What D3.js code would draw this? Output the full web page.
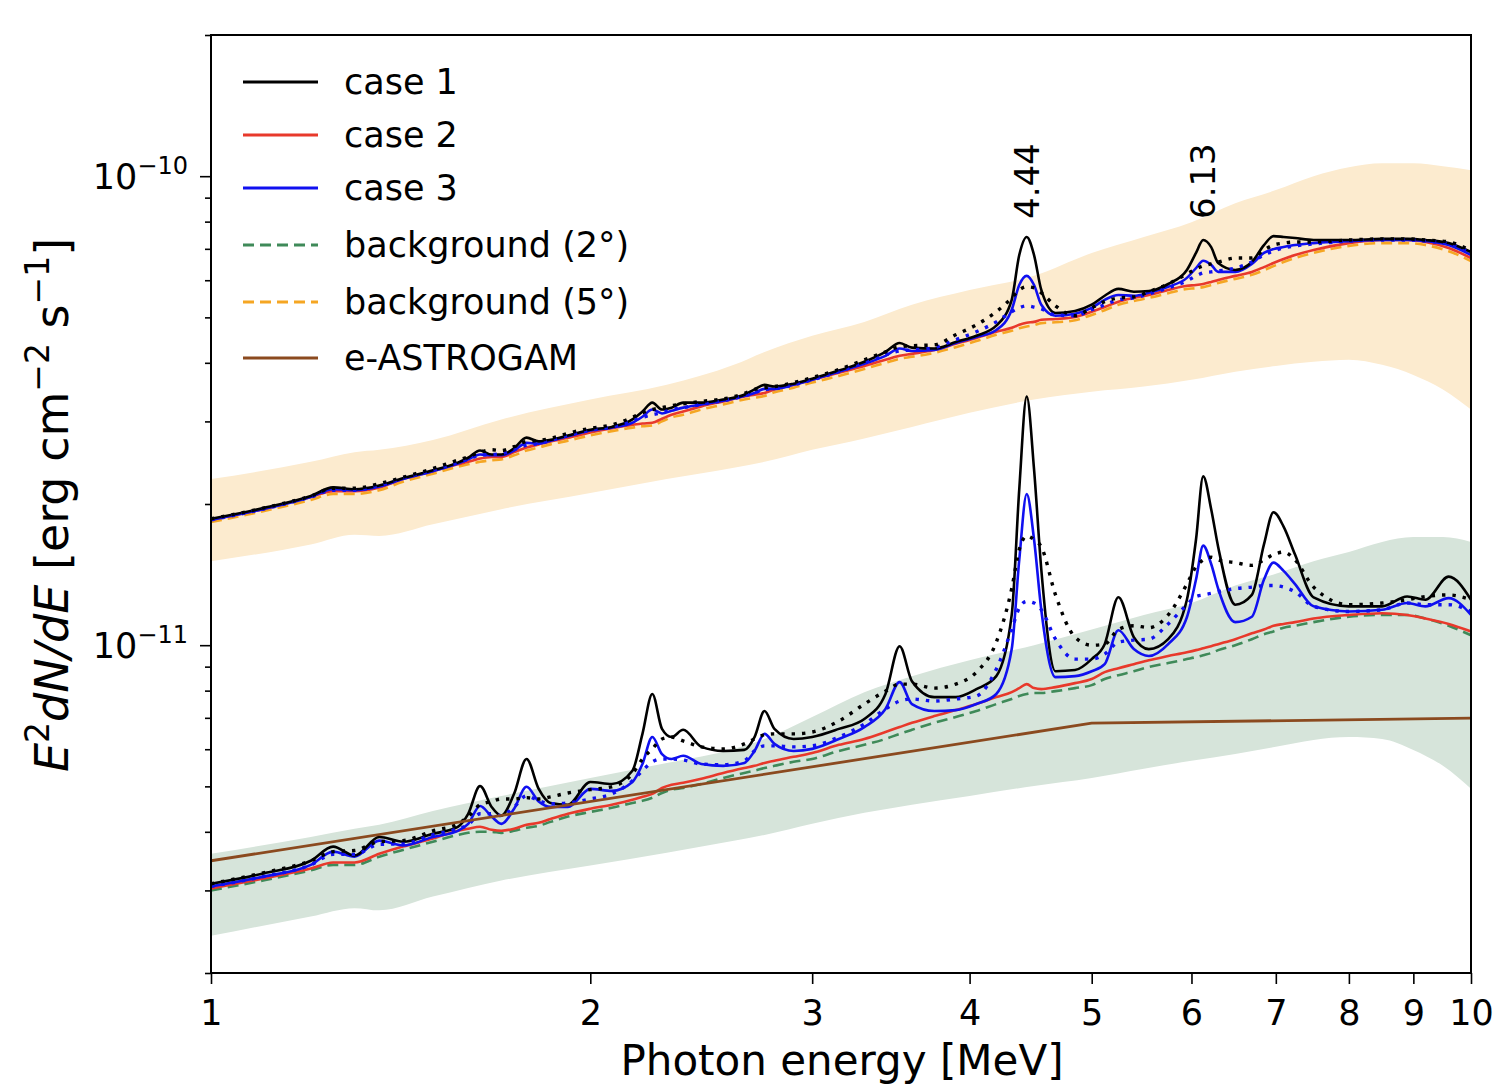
<!DOCTYPE html>
<html><head><meta charset="utf-8">
<script src="https://cdn.jsdelivr.net/npm/d3@7"></script>
<style>
body{margin:0;background:#fff}
text{font-family:"DejaVu Sans",sans-serif;fill:#000}
</style>
</head><body>
<svg id="chart" width="1493" height="1088"></svg>
<script>
// ---- data (flux values in units of 1e-12 erg cm^-2 s^-1) ----
const UNIT = 1e-12;
const energy = [1.0,1.1,1.2,1.25,1.3,1.36,1.42,1.5,1.57,1.6,
 1.635,1.67,1.7,1.74,1.78,1.82,1.86,1.92,2.0,2.08,
 2.16,2.2,2.24,2.28,2.32,2.37,2.45,2.55,2.65,2.7,
 2.75,2.8,2.9,3.0,3.15,3.3,3.43,3.52,3.6,3.75,
 3.9,4.05,4.2,4.32,4.38,4.44,4.5,4.56,4.68,4.85,
 5.0,5.12,5.25,5.4,5.55,5.75,5.95,6.05,6.13,6.22,
 6.3,6.5,6.7,6.85,6.97,7.1,7.25,7.5,8.0,8.5,
 8.9,9.2,9.6,10.0];

// 2 degree (lower) spectra
const case1Low = [3.10,3.26,3.47,3.72,3.56,3.90,3.81,3.96,4.10,4.37,
 5.01,4.52,4.33,4.82,5.72,4.94,4.61,4.57,5.11,5.06,
 5.40,6.47,7.87,6.63,6.37,6.60,6.07,5.95,5.98,6.37,
 7.24,6.63,6.31,6.37,6.63,6.96,7.87,9.95,8.38,7.75,
 7.75,8.06,8.59,11.6,21.5,33.9,23.7,14.5,8.80,8.85,
 9.34,10.05,12.65,10.4,9.81,10.3,12.5,16.8,22.9,19.5,
 16.2,12.2,12.8,16.4,19.2,17.9,15.6,12.65,12.1,12.1,
 12.7,12.5,14.0,12.5];
const case2Low = [3.03,3.18,3.34,3.44,3.44,3.59,3.72,3.87,4.02,4.06,
 4.10,4.04,4.02,4.06,4.14,4.18,4.26,4.37,4.48,4.57,
 4.68,4.75,4.82,4.96,5.04,5.09,5.19,5.34,5.47,5.53,
 5.61,5.67,5.78,5.89,6.13,6.31,6.53,6.69,6.83,7.06,
 7.27,7.49,7.75,7.94,8.10,8.26,8.10,8.06,8.14,8.30,
 8.47,8.76,8.93,9.11,9.29,9.48,9.66,9.76,9.85,9.95,
 10.05,10.3,10.6,10.8,11.0,11.1,11.2,11.4,11.6,11.7,
 11.6,11.4,11.1,10.7];
const case3Low = [3.06,3.21,3.40,3.63,3.54,3.83,3.74,3.90,4.02,4.16,
 4.54,4.31,4.16,4.48,4.99,4.64,4.52,4.52,4.94,4.89,
 5.11,5.58,6.37,5.86,5.72,5.81,5.58,5.53,5.61,5.95,
 6.47,6.16,5.95,6.01,6.31,6.69,7.31,8.34,7.49,7.24,
 7.27,7.49,7.87,9.81,15.2,21.0,16.8,11.9,8.55,8.59,
 8.80,9.11,10.76,9.81,9.48,10.05,11.47,13.8,16.3,14.9,
 13.2,11.2,11.5,13.8,15.0,14.4,13.5,12.1,11.8,11.9,
 12.3,12.1,12.6,11.6];
const case1LowDotted = [3.10,3.27,3.47,3.63,3.65,3.81,3.83,4.02,4.16,4.31,
 4.57,4.64,4.70,4.70,4.73,4.70,4.75,4.84,4.92,4.99,
 5.32,5.72,6.01,6.31,6.37,6.25,6.07,6.01,6.16,6.31,
 6.44,6.47,6.47,6.53,6.89,7.49,7.98,8.26,8.26,8.10,
 8.26,8.76,10.15,13.2,16.0,17.1,16.8,16.2,12.8,10.4,
 10.0,10.05,10.8,11.0,10.9,11.6,13.5,14.7,15.2,15.4,
 15.2,15.0,14.8,15.2,15.6,15.8,15.2,13.3,12.2,12.3,
 12.5,12.7,12.8,12.5];
const case3LowDotted = [3.06,3.21,3.40,3.58,3.58,3.76,3.77,3.94,4.06,4.14,
 4.37,4.37,4.33,4.52,4.77,4.66,4.59,4.61,4.70,4.82,
 5.14,5.40,5.64,5.72,5.72,5.69,5.58,5.56,5.67,5.95,
 6.10,6.10,6.07,6.10,6.37,6.79,7.31,7.60,7.68,7.60,
 7.68,7.79,8.89,10.8,12.0,12.4,12.3,11.9,10.3,9.34,
 9.34,9.57,10.15,10.25,10.3,11.1,12.2,12.7,12.8,12.9,
 13.0,13.2,13.3,13.4,13.4,13.3,13.0,12.1,11.8,11.9,
 12.3,12.2,12.2,11.8];
const background2 = [3.00,3.15,3.31,3.40,3.40,3.54,3.66,3.81,3.94,3.98,
 4.00,4.00,3.98,4.02,4.08,4.12,4.20,4.31,4.41,4.50,
 4.61,4.66,4.73,4.84,4.92,4.96,5.06,5.21,5.34,5.40,
 5.47,5.53,5.64,5.72,5.95,6.13,6.31,6.47,6.60,6.83,
 7.03,7.24,7.49,7.68,7.79,7.87,7.91,7.91,7.98,8.10,
 8.22,8.47,8.63,8.80,8.98,9.16,9.34,9.43,9.52,9.62,
 9.76,10.0,10.3,10.55,10.7,10.9,11.0,11.2,11.5,11.6,
 11.6,11.4,11.0,10.5];

// 5 degree (upper) spectra
const case1High = [18.6,19.6,20.8,21.7,21.5,21.9,22.7,23.6,24.5,25.1,
 26.0,25.5,25.5,26.3,27.7,27.2,27.4,28.0,28.8,29.2,
 30.3,31.5,32.9,31.8,32.1,32.9,32.9,33.4,34.2,35.1,
 35.9,35.6,36.1,37.0,38.5,40.2,42.2,44.1,43.1,42.9,
 44.3,45.7,48.0,54.5,67.9,74.2,67.9,57.2,51.1,51.6,
 53.2,55.6,57.5,56.7,56.9,58.9,63.1,68.6,73.1,70.6,
 65.3,63.1,65.6,71.3,74.5,74.2,73.8,73.1,73.1,73.5,
 73.5,73.1,72.0,68.9];
const case2High = [18.5,19.5,20.7,21.3,21.3,21.7,22.6,23.5,24.3,24.6,
 25.0,25.2,25.2,25.8,26.4,26.8,27.2,27.7,28.4,29.0,
 29.5,29.7,29.8,30.4,31.0,31.5,32.3,33.1,33.9,34.2,
 34.5,35.1,35.9,36.8,38.1,39.4,40.6,41.4,41.8,42.6,
 43.9,45.2,46.6,47.5,48.2,48.7,48.9,49.4,49.6,50.1,
 51.4,52.6,54.0,55.0,55.8,57.2,58.4,58.6,58.9,59.5,
 60.1,61.3,62.5,64.0,65.3,66.6,67.9,69.6,72.0,73.1,
 73.1,72.4,70.3,66.9];
const case3High = [18.5,19.5,20.7,21.5,21.4,21.8,22.6,23.5,24.4,24.9,
 25.5,25.4,25.4,26.0,27.0,26.9,27.3,27.9,28.7,29.1,
 29.8,30.7,31.8,31.2,31.6,32.1,32.6,33.2,34.0,34.5,
 35.2,35.2,35.9,36.8,38.3,39.8,41.4,42.9,42.4,42.6,
 44.1,45.4,47.0,51.9,58.6,61.3,58.6,53.2,50.4,50.9,
 52.4,54.5,55.8,55.6,56.4,58.1,60.7,63.7,66.0,64.7,
 62.5,62.5,65.0,68.6,69.9,70.6,71.3,72.0,72.7,73.1,
 73.1,72.7,71.3,67.9];
const case1HighDotted = [18.6,19.6,20.8,21.6,21.6,22.1,22.8,23.8,24.8,25.2,
 25.8,26.1,26.0,26.5,27.2,27.3,27.6,28.3,29.0,29.5,
 30.6,31.3,31.8,32.1,32.4,32.7,33.1,33.5,34.4,35.1,
 35.4,35.6,36.3,37.2,38.7,40.6,42.2,43.3,43.5,43.7,
 45.9,48.2,51.4,55.0,57.2,58.1,57.8,56.4,52.9,50.4,
 52.4,54.0,55.0,55.3,56.7,58.9,61.9,63.4,64.4,65.0,
 65.6,66.9,66.9,69.6,71.3,72.0,72.4,72.4,73.1,73.5,
 73.5,73.1,72.4,69.3];
const case3HighDotted = [18.5,19.5,20.7,21.4,21.4,21.9,22.7,23.6,24.5,24.9,
 25.4,25.5,25.6,26.1,26.7,26.9,27.3,28.0,28.7,29.2,
 30.1,30.6,31.0,31.3,31.8,32.1,32.6,33.2,34.0,34.5,
 35.1,35.2,35.9,36.8,38.3,40.0,41.6,42.4,42.6,43.1,
 44.8,46.6,48.9,51.4,52.4,52.9,52.6,52.1,50.6,50.4,
 51.9,53.2,54.5,55.0,56.1,57.8,59.8,61.3,62.2,62.5,
 62.8,63.7,65.6,67.9,69.3,70.3,71.0,71.7,72.7,73.1,
 73.1,72.7,71.7,68.6];
const background5 = [18.3,19.3,20.4,21.0,21.0,21.4,22.3,23.2,24.0,24.3,
 24.6,24.8,24.9,25.4,26.0,26.4,26.8,27.3,28.0,28.6,
 29.1,29.3,29.4,30.0,30.6,31.0,31.8,32.6,33.4,33.7,
 34.0,34.6,35.4,36.3,37.5,38.8,40.0,40.8,41.2,42.0,
 43.2,44.5,45.9,46.8,47.4,47.8,48.1,48.6,48.8,49.3,
 50.6,51.8,53.2,54.2,55.0,56.3,57.5,57.7,58.0,58.6,
 59.2,60.4,61.6,63.0,64.3,65.6,66.9,68.6,71.0,72.0,
 72.0,71.3,69.2,65.9];

// background uncertainty bands
const bandEnergy = [1.0,1.2,1.3,1.36,1.5,1.7,2.0,2.3,2.6,2.75,
 3.0,3.3,3.6,4.0,4.5,5.0,5.5,6.0,6.5,7.0,
 7.5,8.0,8.5,9.0,9.5,10.0];
const band5Upper = [22.6,24.6,25.8,26.1,27.4,30.3,33.4,35.9,39.6,42.2,
 45.7,48.9,53.2,57.2,61.3,68.6,74.2,79.8,87.6,93.4,
 100,104.5,106.6,106.6,105.0,103.0];
const band5Lower = [15.1,16.4,17.2,17.1,18.1,19.5,21.1,22.6,23.9,24.6,
 26.1,27.6,29.2,31.3,33.4,34.7,35.6,36.8,38.3,39.4,
 40.2,40.6,39.6,37.7,35.1,31.8];
const band2Upper = [3.59,3.90,4.06,4.14,4.43,4.77,5.21,5.61,6.01,6.31,
 7.03,7.94,8.59,9.29,10.0,10.8,11.6,12.3,13.4,14.2,
 15.1,15.8,16.6,17.0,17.0,16.6];
const band2Lower = [2.40,2.64,2.75,2.72,2.91,3.15,3.39,3.61,3.83,3.94,
 4.16,4.39,4.57,4.77,5.01,5.21,5.45,5.67,5.86,6.07,
 6.28,6.37,6.31,5.98,5.53,4.94];

// e-ASTROGAM sensitivity
const astrogamEnergy = [1, 5, 10];
const astrogamFlux = [3.47, 6.82, 6.99];

const xTicks = [1,2,3,4,5,6,7,8,9,10];
const lineLabels = [{e:4.44, text:"4.44"}, {e:6.13, text:"6.13"}];

// ---- drawing ----
const svg = d3.select("#chart");
const L = 211, R = 1471, T = 35, B = 973;
const x = d3.scaleLog().domain([1, 10]).range([L, R]);
const y = d3.scaleLog().domain([2e-12, 2e-10]).range([B, T]);

svg.append("defs").append("clipPath").attr("id","clip")
  .append("rect").attr("x",L).attr("y",T).attr("width",R-L).attr("height",B-T);
const plot = svg.append("g").attr("clip-path","url(#clip)");

function band(xs, lo, hi, fill){
  const d = xs.map((e,i)=>({e, lo:lo[i]*UNIT, hi:hi[i]*UNIT}));
  plot.append("path").datum(d)
    .attr("d", d3.area().x(p=>x(p.e)).y0(p=>y(p.lo)).y1(p=>y(p.hi)).curve(d3.curveMonotoneX))
    .attr("fill", fill).attr("stroke","none");
}
band(bandEnergy, band5Lower, band5Upper, "#fcebcf");
band(bandEnergy, band2Lower, band2Upper, "#d6e4da");

function line(xs, vals, color, width, dash, curve){
  const d = xs.map((e,i)=>({e, v:vals[i]*UNIT}));
  const p = plot.append("path").datum(d)
    .attr("d", d3.line().x(q=>x(q.e)).y(q=>y(q.v)).curve(curve || d3.curveMonotoneX))
    .attr("fill","none").attr("stroke",color).attr("stroke-width",width)
    .attr("stroke-linejoin","round");
  if (dash) p.attr("stroke-dasharray", dash);
  return p;
}
const C_BLACK="#000000", C_RED="#e8392b", C_BLUE="#1010f0", C_GREEN="#3f8a59", C_ORANGE="#f5a623", C_BROWN="#8b4a1f";

line(energy, background5, C_ORANGE, 2.6, "11,6");
line(energy, background2, C_GREEN, 2.6, "11,6");
line(energy, case2High, C_RED, 2.6);
line(energy, case2Low, C_RED, 2.6);
line(energy, case3High, C_BLUE, 2.6);
line(energy, case3Low, C_BLUE, 2.6);
line(energy, case1High, C_BLACK, 2.6);
line(energy, case1Low, C_BLACK, 2.6);
line(energy, case3HighDotted, C_BLUE, 3.4, "3.4,7");
line(energy, case3LowDotted, C_BLUE, 3.4, "3.4,7");
line(energy, case1HighDotted, C_BLACK, 3.4, "3.4,7");
line(energy, case1LowDotted, C_BLACK, 3.4, "3.4,7");
line(astrogamEnergy, astrogamFlux, C_BROWN, 2.8, null, d3.curveLinear);

// line annotations
lineLabels.forEach(l=>{
  svg.append("text").attr("transform",`translate(${x(l.e)+12},219) rotate(-90)`)
    .attr("font-size",34).attr("text-anchor","start").text(l.text);
});

// frame
svg.append("rect").attr("x",L).attr("y",T).attr("width",R-L).attr("height",B-T)
  .attr("fill","none").attr("stroke","#000").attr("stroke-width",2);

// x axis
const xAxis = d3.axisBottom(x).tickValues(xTicks).tickFormat(d3.format("d")).tickSize(11).tickPadding(16);
const gx = svg.append("g").attr("transform",`translate(0,${B})`).call(xAxis);
gx.select(".domain").remove();
gx.selectAll(".tick line").attr("stroke","#000").attr("stroke-width",1.6);
gx.selectAll(".tick text").attr("font-size",35).attr("font-family","DejaVu Sans").attr("fill","#000");

// y axis
const yMajor = [1e-11, 1e-10];
const yMinor = [];
[1e-12, 1e-11, 1e-10].forEach(b=>{ for(let k=2;k<=9;k++){ const v=k*b; if(v>=2e-12 && v<=2e-10) yMinor.push(v);} });
const gy = svg.append("g").attr("transform",`translate(${L},0)`);
gy.call(d3.axisLeft(y).tickValues(yMinor).tickSize(6).tickFormat(""));
gy.call(g=>g.select(".domain").remove());
const gyM = svg.append("g").attr("transform",`translate(${L},0)`)
  .call(d3.axisLeft(y).tickValues(yMajor).tickSize(11).tickFormat(""));
gyM.select(".domain").remove();
svg.selectAll(".tick line").attr("stroke","#000").attr("stroke-width",1.6);
yMajor.forEach(v=>{
  const exp = Math.round(Math.log10(v));
  const t = svg.append("text").attr("x",188).attr("y",y(v)+13).attr("text-anchor","end").attr("font-size",35);
  t.append("tspan").text("10");
  t.append("tspan").attr("dy",-15).attr("font-size",24).text("\u2212"+Math.abs(exp));
});

// axis titles
svg.append("text").attr("x",842).attr("y",1075).attr("text-anchor","middle")
  .attr("font-size",42).text("Photon energy [MeV]");
const yl = svg.append("text").attr("transform",`translate(68,505) rotate(-90)`)
  .attr("text-anchor","middle").attr("font-size",46);
yl.append("tspan").attr("font-style","italic").text("E");
yl.append("tspan").attr("dy",-19).attr("font-size",33).text("2");
yl.append("tspan").attr("dy",19).attr("font-style","italic").text("dN/dE");
yl.append("tspan").text(" [erg cm");
yl.append("tspan").attr("dy",-19).attr("font-size",33).text("\u22122");
yl.append("tspan").attr("dy",19).text(" s");
yl.append("tspan").attr("dy",-19).attr("font-size",33).text("\u22121");
yl.append("tspan").attr("dy",19).text("]");

// legend
const legend = [
  {label:"case 1", color:C_BLACK, dash:null, y:82},
  {label:"case 2", color:C_RED, dash:null, y:135},
  {label:"case 3", color:C_BLUE, dash:null, y:188},
  {label:"background (2\u00b0)", color:C_GREEN, dash:"11,6", y:245},
  {label:"background (5\u00b0)", color:C_ORANGE, dash:"11,6", y:302},
  {label:"e-ASTROGAM", color:C_BROWN, dash:null, y:358}
];
const lg = svg.append("g");
legend.forEach(it=>{
  const ln = lg.append("line").attr("x1",243).attr("x2",318).attr("y1",it.y).attr("y2",it.y)
    .attr("stroke",it.color).attr("stroke-width",2.8);
  if(it.dash) ln.attr("stroke-dasharray",it.dash);
  lg.append("text").attr("x",344).attr("y",it.y+12).attr("font-size",35).text(it.label);
});
</script>
</body></html>
